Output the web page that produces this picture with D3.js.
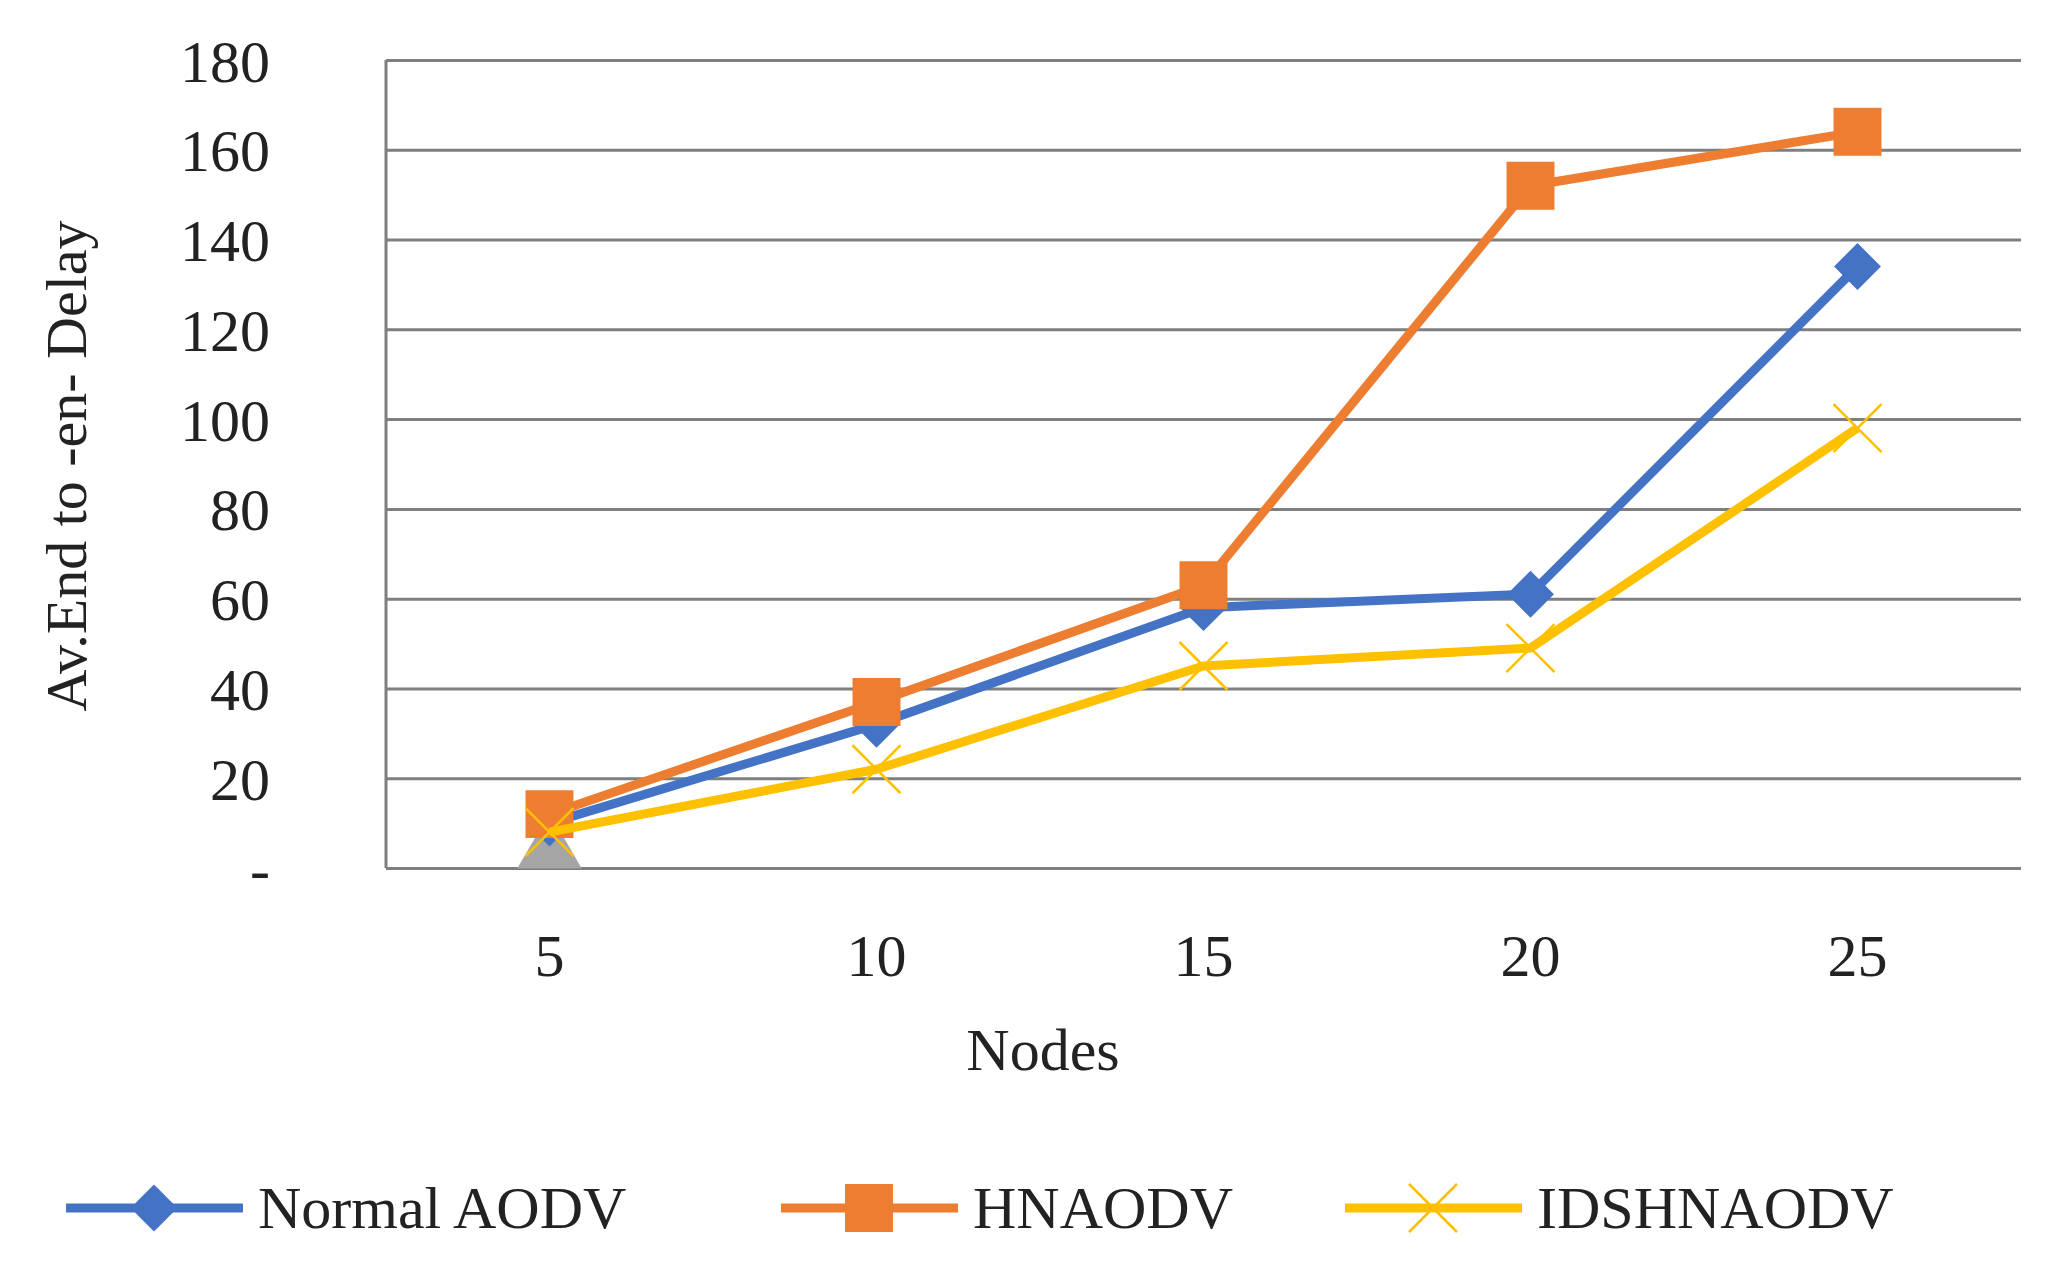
<!DOCTYPE html><html><head><meta charset="utf-8"><script src="https://cdn.jsdelivr.net/npm/d3@7"></script>
<style>body{margin:0;background:#fff}text{font-family:"Liberation Serif","DejaVu Serif",serif}</style></head><body>
<svg id="c" width="2058" height="1273"></svg>
<script>
const categories=["5","10","15","20","25"];
const normalAODV=[10,32,58,61,134];
const hnAODV=[12,37,63,152,164];
const idsHNAODV=[8,22,45,49,98];
const extraSeries=[0,null,null,null,null];
const yTicks=[0,20,40,60,80,100,120,140,160,180];
const svg=d3.select("#c");
const L=386,R=2021,T=60,B=868;
const x=d3.scaleBand().domain(categories).range([L,R]);
const y=d3.scaleLinear().domain([0,180]).range([B,T]);
const cx=c=>x(c)+x.bandwidth()/2;
const ya=svg.append("g").attr("transform",`translate(${L},0)`).call(d3.axisLeft(y).tickValues(yTicks).tickSize(-(R-L)).tickFormat(d=>d===0?"-":d));
ya.select(".domain").remove();
ya.selectAll("line").attr("stroke","#7f7f7f").attr("stroke-width",3);
ya.selectAll("text").attr("x",-116).attr("font-size",60).attr("fill","#222").attr("text-anchor","end").attr("dy","0.35em");
svg.append("line").attr("x1",L).attr("x2",L).attr("y1",T).attr("y2",B).attr("stroke","#7f7f7f").attr("stroke-width",3);
const xa=svg.append("g").attr("transform",`translate(0,${B})`).call(d3.axisBottom(x).tickSize(0));
xa.select(".domain").remove();
xa.selectAll("text").attr("dy",0).attr("y",108).attr("font-size",60).attr("fill","#222");
svg.append("text").attr("x",1043).attr("y",1070).attr("text-anchor","middle").attr("font-size",60).attr("font-family","Liberation Sans Narrow, Liberation Sans, sans-serif").attr("fill","#222").text("Nodes");
svg.append("text").attr("transform","translate(86,466) rotate(-90)").attr("text-anchor","middle").attr("font-size",58).attr("fill","#222").text("Av.End  to -en- Delay");
const series=[
 {name:"Normal AODV",vals:normalAODV,color:"#4472C4",m:"diamond",s:1100},
 {name:"HNAODV",vals:hnAODV,color:"#ED7D31",m:"square",s:2300},
 {name:"IDSHNAODV",vals:idsHNAODV,color:"#FFC000",m:"x",s:1400}];
const line=d3.line().x((d,i)=>cx(categories[i])).y(d=>y(d));
function marker(g,s,px,py){
 if(s.m==="x"){const r=24;g.append("path").attr("d",`M${px-r},${py-r}L${px+r},${py+r}M${px-r},${py+r}L${px+r},${py-r}`).attr("stroke",s.color).attr("stroke-width",2.5).attr("fill","none");}
 else g.append("path").attr("transform",`translate(${px},${py})${s.m==="diamond"?" rotate(45)":""}`).attr("d",d3.symbol(d3.symbolSquare,s.s)()).attr("fill",s.color);
}
extraSeries.forEach((v,i)=>{if(v!==null)svg.append("path").attr("transform",`translate(${cx(categories[i])},${y(v)-18})`).attr("d",d3.symbol(d3.symbolTriangle,1800)()).attr("fill","#A5A5A5");});
series.forEach(s=>{
 svg.append("path").datum(s.vals).attr("d",line).attr("fill","none").attr("stroke",s.color).attr("stroke-width",9).attr("stroke-linejoin","round");
 s.vals.forEach((v,i)=>marker(svg,s,cx(categories[i]),y(v)));
});
const lx=[66,781,1345];
series.forEach((s,i)=>{
 const g=svg.append("g");
 g.append("line").attr("x1",lx[i]).attr("x2",lx[i]+177).attr("y1",1208).attr("y2",1208).attr("stroke",s.color).attr("stroke-width",9);
 marker(g,s,lx[i]+88,1208);
 g.append("text").attr("x",lx[i]+192).attr("y",1228).attr("font-size",60).attr("fill","#222").text(s.name);
});
</script></body></html>
